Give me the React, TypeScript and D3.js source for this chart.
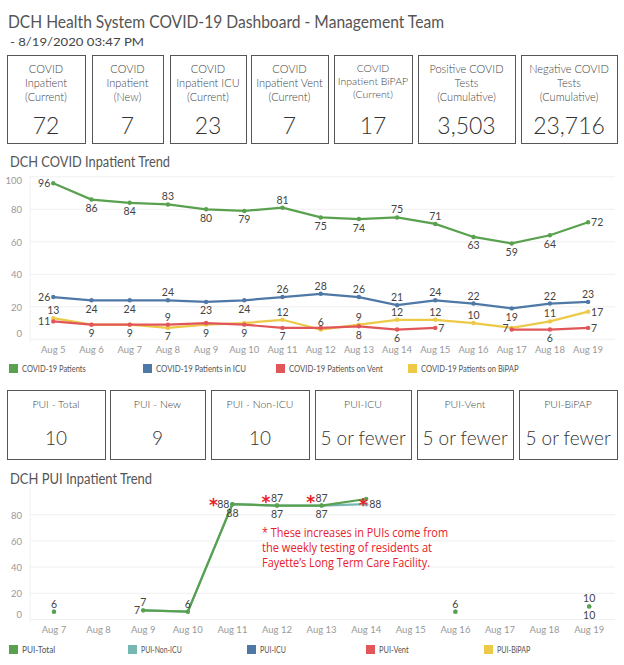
import React from "react";
import * as d3 from "d3";

const dates1 = ["Aug 5","Aug 6","Aug 7","Aug 8","Aug 9","Aug 10","Aug 11","Aug 12","Aug 13","Aug 14","Aug 15","Aug 16","Aug 17","Aug 18","Aug 19"];
const covidPatients = [96,86,84,83,80,79,81,75,74,75,71,63,59,64,72];
const covidICU = [26,24,24,24,23,24,26,28,26,21,24,22,19,22,23];
const covidVent: (number|null)[] = [11,9,9,9,10,9,7,7,8,6,7,null,6,6,7];
const covidBiPAP = [13,9,9,7,9,10,12,6,9,12,12,10,7,11,17];

const dates2 = ["Aug 7","Aug 8","Aug 9","Aug 10","Aug 11","Aug 12","Aug 13","Aug 14","Aug 15","Aug 16","Aug 17","Aug 18","Aug 19"];
const puiTotal: (number|null)[] = [6,null,7,6,88,87,87,92,null,6,null,null,10];
const puiNonICU: (number|null)[] = [6,null,7,6,88,87,87,88,null,6,null,null,10];

const yTicks1 = [0,20,40,60,80,100];
const yTicks2 = [0,20,40,60,80];

const topKpis = [
  { lines: ["COVID","Inpatient","(Current)"], value: "72" },
  { lines: ["COVID","Inpatient","(New)"], value: "7" },
  { lines: ["COVID","Inpatient ICU","(Current)"], value: "23" },
  { lines: ["COVID","Inpatient Vent","(Current)"], value: "7" },
  { lines: ["COVID","Inpatient BiPAP","(Current)"], value: "17" },
  { lines: ["Positive COVID","Tests","(Cumulative)"], value: "3,503" },
  { lines: ["Negative COVID","Tests","(Cumulative)"], value: "23,716" },
];
const puiKpis = [
  { label: "PUI - Total", value: "10" },
  { label: "PUI - New", value: "9" },
  { label: "PUI - Non-ICU", value: "10" },
  { label: "PUI-ICU", value: "5 or fewer" },
  { label: "PUI-Vent", value: "5 or fewer" },
  { label: "PUI-BiPAP", value: "5 or fewer" },
];
const legend1 = ["COVID-19 Patients","COVID-19 Patients in ICU","COVID-19 Patients on Vent","COVID-19 Patients on BiPAP"];
const legend2 = ["PUI-Total","PUI-Non-ICU","PUI-ICU","PUI-Vent","PUI-BiPAP"];
const noteLines = ["* These increases in PUIs come from","the weekly testing of residents at","Fayette\u2019s Long Term Care Facility."];
const starDates = ["Aug 11","Aug 12","Aug 13","Aug 14"];

// style: label placements (a=above, b=below, l=left, r=right, ""=none)
const lpGreen = ["l","b","b","a","b","b","a","b","b","a","a","b","b","b","r"];
const lpBlue = ["l","b","b","a","b","b","a","a","a","a","a","a","b","a","a"];
const lpRed = ["l","b","b","a","","b","b","","b","b","r","","","b","r"];
const lpYellow = ["a","","","b","b","","a","a","a","a","a","a","l","a","r"];
const lpTotal = ["a","","a","a","l","a","a","","","a","","","a"];
const lpNonICU = ["","","l","","b","b","b","r","","","","","b"];

const GREEN = "#59a14f", BLUE = "#4e79a7", RED = "#e15759", YELLOW = "#edc948", TEAL = "#76b7b2";
const FONT = "Lato, 'Open Sans', sans-serif";

const topBoxX = [[7,85],[92,163],[170,246],[251,328],[334,412],[418,515],[521,617]];
const puiBoxX = [[7,105],[110,205],[211,309],[315,411],[417,513],[519,617]];

function Labels({ xs, ys, vals, pos, color = "#444" }: any) {
  return (
    <g fontFamily={FONT} fontSize={10.5} fill={color}>
      {vals.map((v: any, i: number) => {
        const p = pos[i];
        if (v == null || !p) return null;
        const x = xs[i], y = ys[i];
        let tx = x, ty = y, anchor = "middle";
        if (p === "a") ty = y - 4;
        else if (p === "b") ty = y + 12.5;
        else if (p === "l") { tx = x - 3; ty = y + 4; anchor = "end"; }
        else if (p === "r") { tx = x + 3; ty = y + 4; anchor = "start"; }
        return <text key={i} x={tx} y={ty} textAnchor={anchor}>{v}</text>;
      })}
    </g>
  );
}

export default function App() {
  const x1 = d3.scalePoint<string>().domain(dates1).range([34.2, 607.2]).padding(0.5);
  const y1 = d3.scaleLinear().domain([0, 100]).range([339.3, 176.8]);
  const x2 = d3.scalePoint<string>().domain(dates2).range([31.7, 611.5]).padding(0.5);
  const y2 = d3.scaleLinear().domain([0, 100]).range([619.5, 488.5]);

  const line1 = (vals: (number|null)[]) =>
    d3.line<number|null>().defined(d => d != null).x((_, i) => x1(dates1[i])!).y(d => y1(d as number))(vals) || "";
  const line2 = (vals: (number|null)[]) =>
    d3.line<number|null>().defined(d => d != null).x((_, i) => x2(dates2[i])!).y(d => y2(d as number))(vals) || "";

  const series1 = [
    { vals: covidBiPAP, color: YELLOW, lp: lpYellow },
    { vals: covidVent, color: RED, lp: lpRed },
    { vals: covidICU, color: BLUE, lp: lpBlue },
    { vals: covidPatients, color: GREEN, lp: lpGreen },
  ];
  const series2 = [
    { vals: puiNonICU, color: TEAL, lp: lpNonICU },
    { vals: puiTotal, color: GREEN, lp: lpTotal },
  ];

  return (
    <svg width={624} height={665} style={{ position: "absolute", left: 0, top: 0, background: "#fff" }}>
      <rect width={624} height={665} fill="#fff" />
      <text x={8} y={28} fontFamily={FONT} fontSize={17} fill="#555" textLength={436} lengthAdjust="spacingAndGlyphs">DCH Health System COVID-19 Dashboard - Management Team</text>
      <text x={10} y={46} fontFamily={FONT} fontSize={12} fill="#444" textLength={134} lengthAdjust="spacingAndGlyphs">- 8/19/2020 03:47 PM</text>

      {topKpis.map((k, i) => {
        const [a, b] = topBoxX[i];
        const cx = (a + b) / 2;
        const small = i === 4;
        return (
          <g key={i}>
            <rect x={a + 0.5} y={55.5} width={b - a} height={88} fill="#fff" stroke="#555" />
            {k.lines.map((l, j) => (
              <text key={j} x={cx} y={(small ? 72 : 73) + j * (small ? 13 : 14)} textAnchor="middle" fontFamily={FONT} fontWeight={300} fontSize={small ? 10.5 : 11} fill="#444">{l}</text>
            ))}
            <text x={cx} y={134} textAnchor="middle" fontFamily={FONT} fontWeight={300} fontSize={23} fill="#333">{k.value}</text>
          </g>
        );
      })}

      <text x={10} y={167} fontFamily={FONT} fontSize={14.5} fill="#555" textLength={160} lengthAdjust="spacingAndGlyphs">DCH COVID Inpatient Trend</text>
      <g>
        {yTicks1.map(t => (
          <line key={t} x1={30} x2={615} y1={y1(t)} y2={y1(t)} stroke="#f0f0f0" />
        ))}
        <line x1={30} x2={30} y1={176} y2={342} stroke="#f0f0f0" />
        {yTicks1.map(t => (
          <text key={t} x={22} y={Math.min(Math.max(y1(t) + 4, 184), 337)} textAnchor="end" fontFamily={FONT} fontSize={9.5} fill="#999">{t}</text>
        ))}
        {dates1.map(d => (
          <text key={d} x={x1(d)} y={353} textAnchor="middle" fontFamily={FONT} fontSize={9.5} fill="#999">{d}</text>
        ))}
        {series1.map((s, si) => (
          <g key={si}>
            <path d={line1(s.vals)} fill="none" stroke={s.color} strokeWidth={2.2} />
            {s.vals.map((v, i) => v == null ? null : (
              <circle key={i} cx={x1(dates1[i])} cy={y1(v)} r={2.2} fill={s.color} />
            ))}
          </g>
        ))}
        {series1.map((s, si) => (
          <Labels key={si} xs={dates1.map(d => x1(d))} ys={s.vals.map(v => v == null ? 0 : y1(v))} vals={s.vals} pos={s.lp} />
        ))}
      </g>
      <g fontFamily={FONT} fontSize={9} fill="#555">
        {legend1.map((l, i) => {
          const lx = [9, 143, 276, 408][i];
          return (
            <g key={l}>
              <rect x={lx} y={364} width={9} height={9} fill={[GREEN, BLUE, RED, YELLOW][i]} />
              <text x={lx + 13} y={372} textLength={l.length * 3.75} lengthAdjust="spacingAndGlyphs">{l}</text>
            </g>
          );
        })}
      </g>

      {puiKpis.map((k, i) => {
        const [a, b] = puiBoxX[i];
        const cx = (a + b) / 2;
        return (
          <g key={i}>
            <rect x={a + 0.5} y={390.5} width={b - a} height={69} fill="#fff" stroke="#555" />
            <text x={cx} y={408} textAnchor="middle" fontFamily={FONT} fontWeight={300} fontSize={10.5} fill="#444">{k.label}</text>
            <text x={cx} y={445} textAnchor="middle" fontFamily={FONT} fontWeight={300} fontSize={19} fill="#333">{k.value}</text>
          </g>
        );
      })}

      <text x={10} y={484} fontFamily={FONT} fontSize={14.5} fill="#555" textLength={142} lengthAdjust="spacingAndGlyphs">DCH PUI Inpatient Trend</text>
      <g>
        {[0,20,40,60,80].map(t => (
          <line key={t} x1={30} x2={615} y1={y2(t)} y2={y2(t)} stroke="#f0f0f0" />
        ))}
        <line x1={30} x2={30} y1={488} y2={622} stroke="#f0f0f0" />
        {yTicks2.map(t => (
          <text key={t} x={22} y={Math.min(y2(t) + 4, 618)} textAnchor="end" fontFamily={FONT} fontSize={9.5} fill="#999">{t}</text>
        ))}
        {dates2.map(d => (
          <text key={d} x={x2(d)} y={633} textAnchor="middle" fontFamily={FONT} fontSize={9.5} fill="#999">{d}</text>
        ))}
        {series2.map((s, si) => (
          <g key={si}>
            <path d={line2(s.vals)} fill="none" stroke={s.color} strokeWidth={2.2} />
            {s.vals.map((v, i) => v == null ? null : (
              <circle key={i} cx={x2(dates2[i])} cy={y2(v)} r={2.2} fill={s.color} />
            ))}
          </g>
        ))}
        {series2.map((s, si) => (
          <Labels key={si} xs={dates2.map(d => x2(d))} ys={s.vals.map(v => v == null ? 0 : y2(v))} vals={s.vals} pos={s.lp} />
        ))}
        {starDates.map((d, i) => {
          const xi = x2(d)!;
          const vi = puiTotal[dates2.indexOf(d)] as number;
          const dx = [-19, -11, -11, -3][i];
          const dy = [-4, -9, -9, 1][i];
          return (
            <text key={d} x={xi + dx} y={y2(vi) + dy + 11} textAnchor="middle" fontFamily="DejaVu Sans, sans-serif" fontWeight="bold" fontSize={17} fill="#e8202a">*</text>
          );
        })}
        {noteLines.map((l, i) => (
          <text key={i} x={262} y={537 + i * 15} fontFamily="'Liberation Sans Narrow', 'Open Sans', sans-serif" fontSize={13.5} fill="#e8202a"
            textLength={[186, 170, 168][i]} lengthAdjust="spacingAndGlyphs">{l}</text>
        ))}
      </g>
      <g fontFamily={FONT} fontSize={9} fill="#555">
        {legend2.map((l, i) => {
          const lx = [9, 128, 247, 366, 484][i];
          return (
            <g key={l}>
              <rect x={lx} y={645} width={9} height={9} fill={[GREEN, TEAL, BLUE, RED, YELLOW][i]} />
              <text x={lx + 13} y={653} textLength={l.length * 3.7} lengthAdjust="spacingAndGlyphs">{l}</text>
            </g>
          );
        })}
      </g>
    </svg>
  );
}
